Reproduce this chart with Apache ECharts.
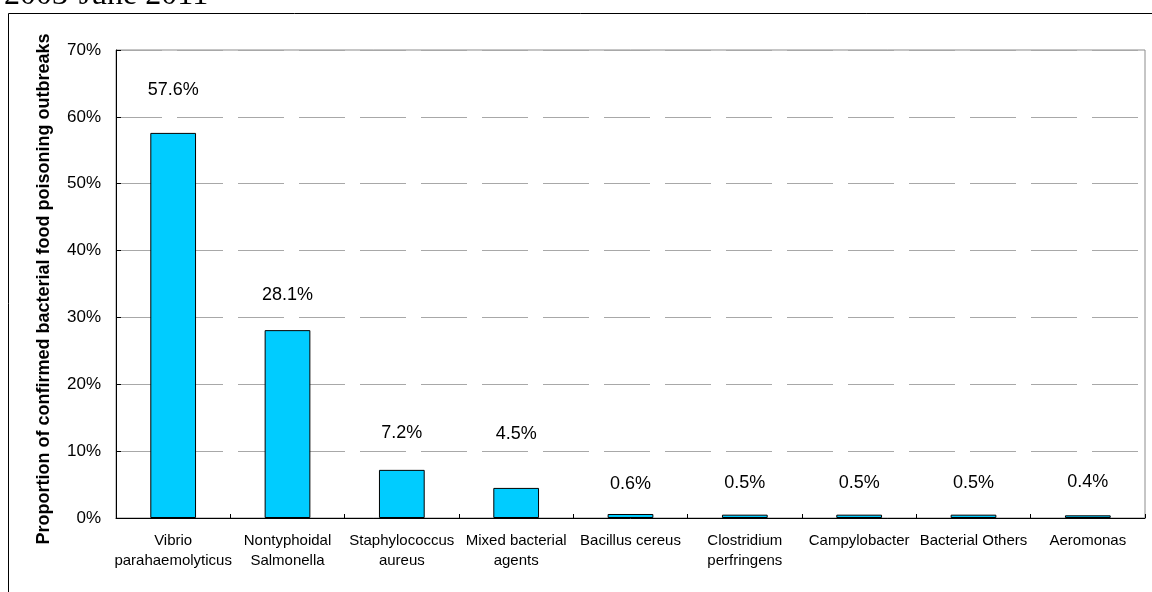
<!DOCTYPE html>
<html>
<head>
<meta charset="utf-8">
<script src="https://cdn.jsdelivr.net/npm/echarts@6/dist/echarts.min.js"></script>
<style>
  html, body { margin: 0; padding: 0; background: #ffffff; }
  #chart { width: 1152px; height: 592px; }
</style>
</head>
<body>
<div id="chart"></div>
<script>
// Bacterial agents behind confirmed food poisoning outbreaks
const categories = [
  'Vibrio\nparahaemolyticus',
  'Nontyphoidal\nSalmonella',
  'Staphylococcus\naureus',
  'Mixed bacterial\nagents',
  'Bacillus cereus',
  'Clostridium\nperfringens',
  'Campylobacter',
  'Bacterial Others',
  'Aeromonas'
];
// Share of outbreaks, in percent
const proportions = [57.6, 28.1, 7.2, 4.5, 0.6, 0.5, 0.5, 0.5, 0.4];
// Value axis range and step (percent)
const yMin = 0;
const yMax = 70;
const yStep = 10;

const headerText = '2003-June 2011';
const axisTitle = 'Proportion of confirmed bacterial food poisoning outbreaks';

// How far each value label floats above its bar (px)
const labelDistance = [34, 26, 28, 45, 21, 23, 23, 23, 24];

const chart = echarts.init(document.getElementById('chart'), null, { renderer: 'canvas' });

const option = {
  animation: false,
  backgroundColor: '#ffffff',
  textStyle: { fontFamily: 'Liberation Sans, Arial, sans-serif' },
  grid: {
    left: 116, top: 50, width: 1029, height: 468,
    show: true, borderColor: '#8c8c8c', borderWidth: 1, backgroundColor: 'transparent'
  },
  xAxis: {
    type: 'category',
    data: categories,
    axisLine: { lineStyle: { color: '#000000', width: 1 } },
    axisTick: { show: true, inside: true, length: 4, lineStyle: { color: '#000000' } },
    axisLabel: {
      color: '#000000', fontSize: 15, lineHeight: 20, margin: 13, interval: 0,
      fontFamily: 'Liberation Sans, Arial, sans-serif'
    },
    splitLine: { show: false }
  },
  yAxis: {
    type: 'value',
    min: yMin, max: yMax, interval: yStep,
    axisLine: { show: true, lineStyle: { color: '#000000', width: 1 } },
    axisTick: { show: true, inside: true, length: 5, lineStyle: { color: '#000000' } },
    axisLabel: {
      color: '#000000', fontSize: 17, margin: 15,
      formatter: '{value}%',
      fontFamily: 'Liberation Sans, Arial, sans-serif'
    },
    splitLine: {
      show: true,
      lineStyle: { color: '#a8a8a8', width: 1, type: [46, 15] }
    }
  },
  series: [{
    type: 'bar',
    barWidth: '40%',
    data: proportions.map((v, i) => ({
      value: v,
      label: { distance: labelDistance[i] }
    })),
    itemStyle: { color: '#00ccff', borderColor: '#000000', borderWidth: 1 },
    label: {
      show: true,
      position: 'top',
      color: '#000000',
      fontSize: 18,
      fontFamily: 'Liberation Sans, Arial, sans-serif',
      formatter: p => p.value.toFixed(1) + '%'
    }
  }],
  graphic: [
    {
      type: 'rect',
      silent: true,
      shape: { x: 8.5, y: 13.5, width: 1200, height: 700 },
      style: { fill: 'none', stroke: '#000000', lineWidth: 1 },
      z: -10
    },
    {
      type: 'text',
      silent: true,
      x: 4, y: 12,
      style: {
        text: headerText,
        font: '32px "Liberation Serif", "Times New Roman", serif',
        fill: '#000000',
        align: 'left',
        verticalAlign: 'bottom'
      }
    },
    {
      type: 'text',
      silent: true,
      x: 44, y: 289,
      rotation: Math.PI / 2,
      style: {
        text: axisTitle,
        font: 'bold 18px "Liberation Sans", Arial, sans-serif',
        fill: '#000000',
        align: 'center',
        verticalAlign: 'middle'
      }
    }
  ]
};

chart.setOption(option);
</script>
</body>
</html>
